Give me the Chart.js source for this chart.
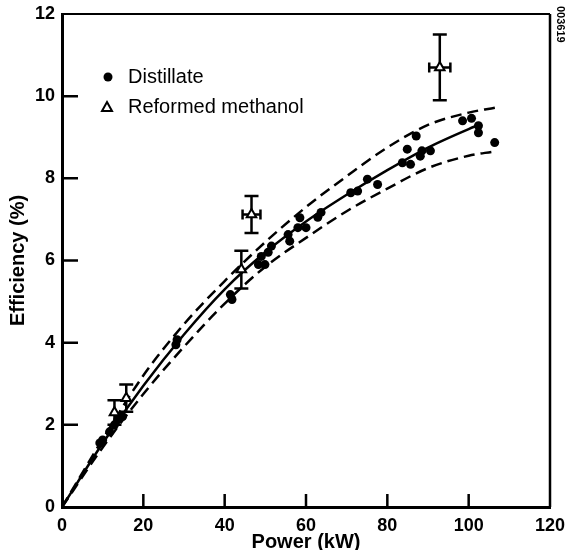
<!DOCTYPE html>
<html>
<head>
<meta charset="utf-8">
<script src="https://cdn.jsdelivr.net/npm/chart.js@4.4.0/dist/chart.umd.min.js"></script>
<style>
html, body { margin: 0; padding: 0; background: #fff; }
#wrap { width: 567px; height: 550px; }
</style>
</head>
<body>
<div id="wrap"><canvas id="graph"></canvas></div>
<script>
// Efficiency vs power - distillate and reformed methanol

// distillate measurements
var distPower = [9.3, 10, 11.7, 12.9, 13.7, 14.9, 28, 28.3, 41.4, 41.8, 48.3, 49, 49.9, 50.7, 51.5, 55.6, 56, 58, 58.5, 60, 62.9, 63.7, 71, 72.7, 75.1, 77.6, 83.7, 84.9, 85.7, 87.1, 88.1, 88.5, 90.6, 98.5, 100.7, 102.4, 102.4, 106.4];
var distEff = [1.56, 1.63, 1.83, 2.0, 2.12, 2.2, 3.95, 4.07, 5.17, 5.05, 5.9, 6.1, 5.9, 6.2, 6.35, 6.63, 6.47, 6.8, 7.04, 6.8, 7.05, 7.17, 7.65, 7.69, 7.98, 7.85, 8.38, 8.71, 8.34, 9.03, 8.54, 8.67, 8.67, 9.4, 9.46, 9.28, 9.11, 8.87];

// reformed methanol points + error bars
var methPower = [12.9, 15.8, 44.1, 46.6, 92.9];
var methEff = [2.3, 2.65, 5.78, 7.12, 10.7];
var methErrEff = [0.3, 0.33, 0.46, 0.45, 0.8];
var methErrPower = [0, 0, 0, 2.2, 2.6];

// fitted curve and its band
var fitPower = [0, 10, 20, 30, 40, 50, 60, 70, 80, 90, 100, 102.5];
var fitEff = [0, 1.55, 2.95, 4.2, 5.3, 6.2, 6.95, 7.6, 8.2, 8.75, 9.2, 9.3];
var upperPower = [0, 10, 20, 30, 40, 50, 60, 70, 80, 90, 100, 106.5];
var upperEff = [0, 1.65, 3.2, 4.45, 5.5, 6.45, 7.3, 8.05, 8.75, 9.3, 9.6, 9.72];
var lowerPower = [0, 10, 20, 30, 40, 50, 60, 70, 80, 90, 100, 106];
var lowerEff = [0, 1.45, 2.75, 3.9, 4.95, 5.85, 6.55, 7.2, 7.75, 8.25, 8.55, 8.65];

var xTicks = [0, 20, 40, 60, 80, 100, 120];
var yTicks = [0, 2, 4, 6, 8, 10, 12];

function pts(xs, ys) {
	var out = [];
	for (var i = 0; i < xs.length; i++) out.push({x: xs[i], y: ys[i]});
	return out;
}

var errorBars = {
	id: "errorBars",
	beforeDatasetsDraw: function(chart) {
		var c = chart.ctx, xs = chart.scales.x, ys = chart.scales.y;
		c.save();
		c.strokeStyle = "#000";
		c.lineWidth = 2.5;
		for (var i = 0; i < methPower.length; i++) {
			var px = xs.getPixelForValue(methPower[i]);
			var py = ys.getPixelForValue(methEff[i]);
			var t = ys.getPixelForValue(methEff[i] + methErrEff[i]);
			var b = ys.getPixelForValue(methEff[i] - methErrEff[i]);
			c.beginPath();
			c.moveTo(px, t); c.lineTo(px, b);
			c.moveTo(px - 7, t); c.lineTo(px + 7, t);
			c.moveTo(px - 7, b); c.lineTo(px + 7, b);
			if (methErrPower[i] > 0) {
				var l = xs.getPixelForValue(methPower[i] - methErrPower[i]);
				var r = xs.getPixelForValue(methPower[i] + methErrPower[i]);
				c.moveTo(l, py); c.lineTo(r, py);
				c.moveTo(l, py - 5); c.lineTo(l, py + 5);
				c.moveTo(r, py - 5); c.lineTo(r, py + 5);
			}
			c.stroke();
		}
		c.restore();
	}
};

var frame = {
	id: "frame",
	afterDraw: function(chart) {
		var c = chart.ctx, a = chart.chartArea, xs = chart.scales.x, ys = chart.scales.y;
		c.save();
		c.strokeStyle = "#000";
		c.lineWidth = 2;
		c.beginPath();
		c.moveTo(a.left, a.top); c.lineTo(a.right, a.top);
		c.stroke();
		c.lineWidth = 2.5;
		c.beginPath();
		c.moveTo(a.right, a.top); c.lineTo(a.right, a.bottom);
		c.stroke();
		// inward ticks
		c.lineWidth = 2.5;
		c.beginPath();
		for (var i = 1; i < yTicks.length - 1; i++) {
			var y = ys.getPixelForValue(yTicks[i]);
			c.moveTo(a.left, y); c.lineTo(a.left + 16, y);
		}
		for (var j = 1; j < xTicks.length - 1; j++) {
			var x = xs.getPixelForValue(xTicks[j]);
			c.moveTo(x, a.bottom); c.lineTo(x, a.bottom - 13);
		}
		c.stroke();

		// legend
		c.fillStyle = "#000";
		c.beginPath();
		c.arc(a.left + 46, a.top + 63, 4.5, 0, Math.PI * 2);
		c.fill();
		c.lineWidth = 2;
		c.beginPath();
		c.moveTo(a.left + 45, a.top + 88);
		c.lineTo(a.left + 50, a.top + 97);
		c.lineTo(a.left + 40, a.top + 97);
		c.closePath();
		c.stroke();
		c.font = "20px 'Liberation Sans', Arial, sans-serif";
		c.textBaseline = "middle";
		c.textAlign = "left";
		c.fillText("Distillate", a.left + 66, a.top + 63);
		c.fillText("Reformed methanol", a.left + 66, a.top + 93);

		// figure id at the right edge
		c.save();
		c.translate(560, 6);
		c.rotate(Math.PI / 2);
		c.font = "bold 11px 'Liberation Sans', Arial, sans-serif";
		c.textBaseline = "middle";
		c.fillText("003619", 0, 0);
		c.restore();
		c.restore();
	}
};

var tickFont = {family: "'Liberation Sans', Arial, sans-serif", size: 18, weight: "bold"};
var titleFont = {family: "'Liberation Sans', Arial, sans-serif", size: 20, weight: "bold", lineHeight: 1};

var ctx = document.getElementById("graph").getContext("2d");

var chart = new Chart(ctx, {
	type: "scatter",
	data: {
		datasets: [{
			label: "Distillate",
			data: pts(distPower, distEff),
			pointStyle: "circle",
			pointRadius: 4.5,
			backgroundColor: "#000",
			borderWidth: 0
		}, {
			label: "Reformed methanol",
			data: pts(methPower, methEff),
			pointStyle: "triangle",
			pointRadius: 5.5,
			backgroundColor: "#fff",
			borderColor: "#000",
			borderWidth: 2
		}, {
			label: "fit",
			data: pts(fitPower, fitEff),
			showLine: true,
			pointRadius: 0,
			borderColor: "#000",
			borderWidth: 2.5,
			cubicInterpolationMode: "monotone",
			fill: false
		}, {
			label: "upper",
			data: pts(upperPower, upperEff),
			showLine: true,
			pointRadius: 0,
			borderColor: "#000",
			borderWidth: 2.5,
			borderDash: [11, 6],
			cubicInterpolationMode: "monotone",
			fill: false
		}, {
			label: "lower",
			data: pts(lowerPower, lowerEff),
			showLine: true,
			pointRadius: 0,
			borderColor: "#000",
			borderWidth: 2.5,
			borderDash: [11, 6],
			cubicInterpolationMode: "monotone",
			fill: false
		}]
	},
	options: {
		responsive: true,
		maintainAspectRatio: false,
		animation: false,
		layout: {padding: {left: 0, top: 14, right: 17, bottom: 0}},
		plugins: {legend: {display: false}, tooltip: {enabled: false}},
		scales: {
			x: {
				type: "linear",
				min: 0, max: 120,
				afterFit: function(s) { s.height = 43; s.paddingLeft = 0; s.paddingRight = 0; },
				afterBuildTicks: function(s) { s.ticks = xTicks.map(function(v) { return {value: v}; }); },
				grid: {display: false, drawTicks: false},
				border: {display: true, color: "#000", width: 3},
				ticks: {color: "#000", font: tickFont, padding: 8, maxRotation: 0},
				title: {display: true, text: "Power (kW)", color: "#000", font: titleFont, padding: {top: 0, bottom: -2}}
			},
			y: {
				type: "linear",
				min: 0, max: 12,
				afterFit: function(s) { s.width = 62; s.paddingTop = 0; s.paddingBottom = 0; },
				afterBuildTicks: function(s) { s.ticks = yTicks.map(function(v) { return {value: v}; }); },
				grid: {display: false, drawTicks: false},
				border: {display: true, color: "#000", width: 3},
				ticks: {color: "#000", font: tickFont, padding: 7},
				title: {display: true, text: "Efficiency (%)", color: "#000", font: titleFont, padding: {top: 8, bottom: 0}}
			}
		}
	},
	plugins: [errorBars, frame]
});
</script>
</body>
</html>
